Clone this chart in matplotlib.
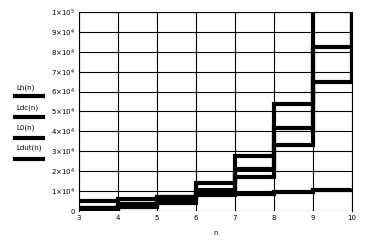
import matplotlib
matplotlib.use('Agg')
import matplotlib.pyplot as plt
from matplotlib.lines import Line2D

n = [3, 4, 5, 6, 7, 8, 9, 10]
Lh = [1750, 3500, 7000, 14000, 27500, 54000, 108000, 216000]
Ldc = [1300, 2600, 5200, 10500, 21000, 41500, 82500, 165000]
L0 = [1050, 2100, 4200, 8400, 17000, 33000, 65000, 130000]
Ldut = [5000, 6000, 7200, 7800, 8500, 9500, 10500, 11000]

labels = ['Lh(n)', 'Ldc(n)', 'L0(n)', 'Ldut(n)']
yticks = [0, 10000, 20000, 30000, 40000, 50000, 60000, 70000, 80000, 90000, 100000]
ytick_labels = ['0'] + [r'$%d{\times}10^{4}$' % k for k in range(1, 10)] + [r'$1{\times}10^{5}$']

W, H = 381, 245
fig = plt.figure(figsize=(W / 100, H / 100), dpi=100)
ax = fig.add_axes([79 / W, (H - 211) / H, 273 / W, 199 / H])

for s in [Lh, Ldc, L0, Ldut]:
    ax.plot(n, s, drawstyle='steps-post', color='black', lw=3,
            solid_capstyle='butt', solid_joinstyle='miter', clip_on=True)

ax.set_xlim(3, 10)
ax.set_ylim(0, 100000)
ax.set_xticks(n)
ax.set_xticklabels([str(v) for v in n], fontsize=5)
ax.set_yticks(yticks)
ax.set_yticklabels(ytick_labels, fontsize=5)
ax.tick_params(length=0, pad=3)
ax.grid(True, color='black', lw=0.8)
ax.set_axisbelow(True)
ax.spines['bottom'].set_visible(False)
for sp in ['left', 'right', 'top']:
    ax.spines[sp].set_linewidth(0.8)
ax.set_xlabel('n', fontsize=5, labelpad=6)

# legend on the left, drawn by hand
text_y = [88, 108, 128, 148]
line_y = [96, 117, 138, 159]
for lab, ty, ly in zip(labels, text_y, line_y):
    fig.text(16 / W, 1 - ty / H, lab, fontsize=5, va='center', ha='left')
    fig.add_artist(Line2D([15 / W, 43 / W], [1 - ly / H, 1 - ly / H],
                          color='black', lw=3, transform=fig.transFigure))

fig.savefig('out.png', dpi=100)
